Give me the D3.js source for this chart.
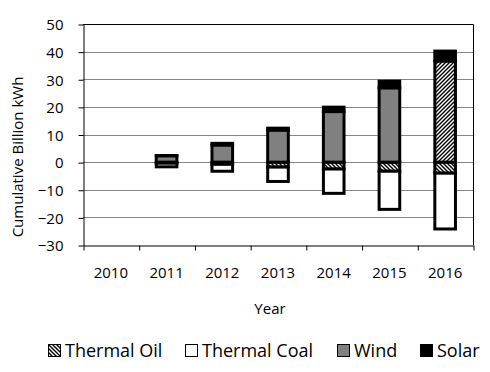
<!DOCTYPE html>
<html>
<head>
<meta charset="utf-8">
<script src="https://cdn.jsdelivr.net/npm/d3@7"></script>
<style>
  body { margin: 0; background: #fff; }
  text { font-family: "Open Sans", sans-serif; fill: #000; }
</style>
</head>
<body>
<div id="plot"></div>
<script>
var svgWidth = 490;
var svgHeight = 372;

// values (billion kWh, cumulative)
var years = ["2010", "2011", "2012", "2013", "2014", "2015", "2016"];
var thermalOil = [0, -0.4, -0.8, -1.8, -2.5, -3.3, -4.0];
var thermalCoal = [0, -1.3, -2.5, -5.2, -8.8, -13.8, -20.2];
var wind = [0, 2.3, 6.2, 11.6, 18.3, 26.9, 0];
var thermalOilUp = [0, 0, 0, 0, 0, 0, 36.6];
var solar = [0, 0.1, 0.6, 0.7, 1.6, 2.4, 3.6];
var yTicks = [-30, -20, -10, 0, 10, 20, 30, 40, 50];

var legendNames = ["Thermal Oil", "Thermal Coal", "Wind", "Solar"];

var plot = { left: 83, right: 473, top: 24, bottom: 245 };

var svg = d3.select("#plot")
  .append("svg")
  .attr("width", svgWidth)
  .attr("height", svgHeight);

var defs = svg.append("defs");

// wide downward diagonal
var pDown = defs.append("pattern")
  .attr("id", "hatchDown")
  .attr("patternUnits", "userSpaceOnUse")
  .attr("width", 4).attr("height", 4);
pDown.append("rect").attr("width", 4).attr("height", 4).attr("fill", "#fff");
pDown.append("path")
  .attr("d", "M0,0 L4,4 M-1,3 L1,5 M3,-1 L5,1")
  .attr("stroke", "#000").attr("stroke-width", 1.4);

// wide upward diagonal
var pUp = defs.append("pattern")
  .attr("id", "hatchUp")
  .attr("patternUnits", "userSpaceOnUse")
  .attr("width", 4).attr("height", 4);
pUp.append("rect").attr("width", 4).attr("height", 4).attr("fill", "#fff");
pUp.append("path")
  .attr("d", "M0,4 L4,0 M-1,1 L1,-1 M3,5 L5,3")
  .attr("stroke", "#000").attr("stroke-width", 1.4);

var fills = {
  oil: "url(#hatchDown)",
  coal: "#fff",
  wind: "#808080",
  oilUp: "url(#hatchUp)",
  solar: "#000"
};

var rows = years.map(function (y, i) {
  return {
    year: y,
    oil: thermalOil[i],
    coal: thermalCoal[i],
    wind: wind[i],
    oilUp: thermalOilUp[i],
    solar: solar[i]
  };
});

var keys = ["oil", "coal", "wind", "oilUp", "solar"];

var stacked = d3.stack()
  .keys(keys)
  .offset(d3.stackOffsetDiverging)(rows);

var x = d3.scaleBand()
  .domain(years)
  .range([plot.left, plot.right])
  .paddingInner(0.63)
  .paddingOuter(0.315);

var xIdx = d3.scaleLinear()
  .domain([0, years.length])
  .range([plot.left, plot.right]);

var y = d3.scaleLinear()
  .domain([-30, 50])
  .range([plot.bottom, plot.top]);

// gridlines
svg.append("g")
  .selectAll("line")
  .data(yTicks.filter(d => d > -30 && d < 50))
  .enter()
  .append("line")
  .attr("x1", plot.left)
  .attr("x2", plot.right)
  .attr("y1", d => Math.round(y(d)) + 0.5)
  .attr("y2", d => Math.round(y(d)) + 0.5)
  .attr("stroke", "#868686")
  .attr("stroke-width", 1);

// top and right border
svg.append("path")
  .attr("d", `M${plot.left},${plot.top + 0.5}H${plot.right + 0.5}V${plot.bottom}`)
  .attr("fill", "none")
  .attr("stroke", "#000");

// bars
var layer = svg.append("g")
  .selectAll("g")
  .data(stacked)
  .enter()
  .append("g")
  .attr("fill", d => fills[d.key]);

layer.selectAll("rect")
  .data(d => d.filter(p => p[1] - p[0] !== 0))
  .enter()
  .append("rect")
  .attr("x", d => x(d.data.year))
  .attr("y", d => y(d[1]))
  .attr("width", x.bandwidth())
  .attr("height", d => y(d[0]) - y(d[1]))
  .attr("stroke", "#000")
  .attr("stroke-width", 3);

// y axis
var leftAxis = d3.axisLeft(y)
  .tickValues(yTicks)
  .tickSize(5)
  .tickPadding(15)
  .tickSizeOuter(0);

var yAxisG = svg.append("g")
  .attr("transform", `translate(${plot.left + 0.5}, 0.5)`)
  .call(leftAxis);
yAxisG.selectAll("text")
  .style("font-size", "15px")
  .attr("dy", "0.35em");

// x axis: ticks between categories
var bottomAxis = d3.axisBottom(xIdx)
  .tickValues(d3.range(years.length + 1))
  .tickSize(5)
  .tickSizeOuter(0)
  .tickFormat("");

svg.append("g")
  .attr("transform", `translate(0.5, ${plot.bottom + 0.5})`)
  .call(bottomAxis);

svg.selectAll(".domain").attr("stroke", "#000");
svg.selectAll(".tick line").attr("stroke", "#000");

svg.append("g")
  .selectAll("text")
  .data(years)
  .enter()
  .append("text")
  .attr("x", d => x(d) + x.bandwidth() / 2)
  .attr("y", 278)
  .attr("text-anchor", "middle")
  .style("font-size", "15px")
  .text(d => d);

// axis titles
svg.append("text")
  .attr("x", 270)
  .attr("y", 314)
  .attr("text-anchor", "middle")
  .style("font-size", "15px")
  .text("Year");

svg.append("text")
  .attr("transform", "translate(18, 157) rotate(-90)")
  .attr("text-anchor", "middle")
  .attr("dy", "0.35em")
  .style("font-size", "15px")
  .text("Cumulative Billion kWh");

// legend
var legendX = [48, 185, 337, 420];
var legendFills = [fills.oil, fills.coal, fills.wind, fills.solar];

var legend = svg.append("g")
  .selectAll("g")
  .data(legendNames)
  .enter()
  .append("g")
  .attr("transform", (d, i) => `translate(${legendX[i]}, 344)`);

legend.append("rect")
  .attr("x", 0.5)
  .attr("y", 0.5)
  .attr("width", 12)
  .attr("height", 12)
  .attr("fill", (d, i) => legendFills[i])
  .attr("stroke", "#000");

legend.append("text")
  .attr("x", 17)
  .attr("y", 6.5)
  .attr("dy", "0.35em")
  .style("font-size", "18px")
  .text(d => d);
</script>
</body>
</html>
